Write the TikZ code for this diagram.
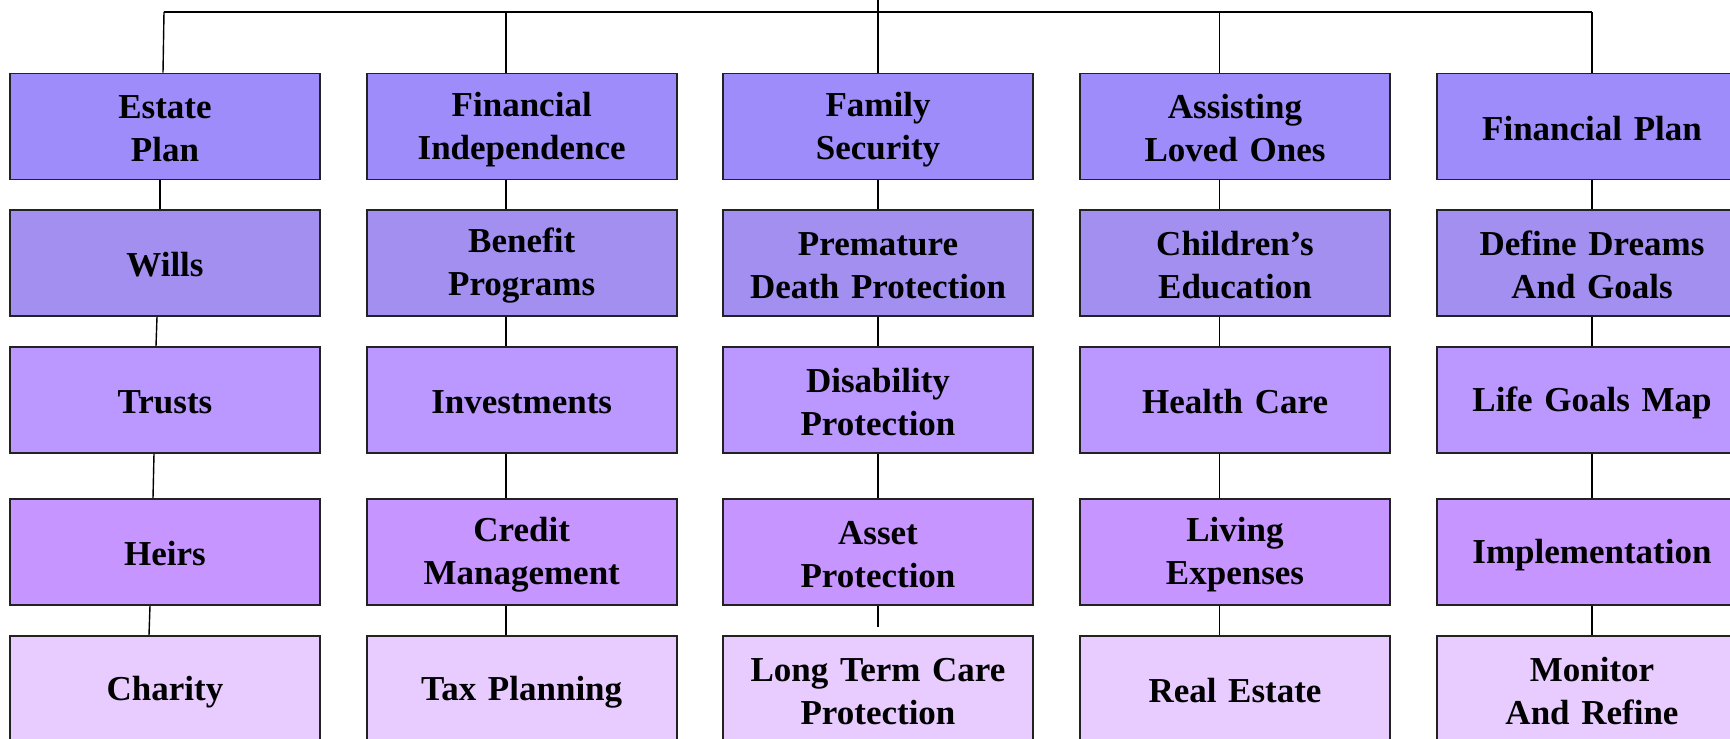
\documentclass[tikz,border=0pt]{standalone}
\usepackage{fontspec}
\setmainfont{Liberation Serif}
\definecolor{rowA}{RGB}{158,140,250}
\definecolor{rowB}{RGB}{163,143,240}
\definecolor{rowC}{RGB}{186,152,255}
\definecolor{rowD}{RGB}{198,149,255}
\definecolor{rowE}{RGB}{232,204,255}
\definecolor{edge}{RGB}{34,34,34}
\tikzset{
  box/.style={draw=edge, line width=1.6pt, rectangle, minimum width=310pt, minimum height=106pt,
    inner sep=0pt, text width=300pt, align=center,
    font=\fontsize{35}{43.4}\selectfont\bfseries,
    execute at begin node={\rule{0pt}{30pt}},
    execute at end node={\rule[-2.6pt]{0pt}{0pt}}},
  link/.style={draw=black, line width=1.4pt}
}
\begin{document}
\begin{tikzpicture}[x=1pt,y=-1pt]
\useasboundingbox (0,0) rectangle (1730,739);
% column centres: 165, 521.7, 878, 1235, 1592 ; row centres: 126.5, 263, 400, 552, 689
\node[box, fill=rowA] (a1) at (165,126.5) {Estate\\Plan};
\node[box, fill=rowB] (a2) at (165,263) {Wills};
\node[box, fill=rowC] (a3) at (165,400) {Trusts};
\node[box, fill=rowD] (a4) at (165,552) {Heirs};
\node[box, fill=rowE] (a5) at (165,689) {Charity};

\node[box, fill=rowA] (b1) at (521.7,126.5) {Financial\\Independence};
\node[box, fill=rowB] (b2) at (521.7,263) {Benefit\\Programs};
\node[box, fill=rowC] (b3) at (521.7,400) {Investments};
\node[box, fill=rowD] (b4) at (521.7,552) {Credit\\Management};
\node[box, fill=rowE] (b5) at (521.7,689) {Tax Planning};

\node[box, fill=rowA] (c1) at (878,126.5) {Family\\Security};
\node[box, fill=rowB] (c2) at (878,263) {Premature\\Death Protection};
\node[box, fill=rowC] (c3) at (878,400) {Disability\\Protection};
\node[box, fill=rowD] (c4) at (878,552) {Asset\\Protection};
\node[box, fill=rowE] (c5) at (878,689) {Long Term Care\\Protection};

\node[box, fill=rowA] (d1) at (1235,126.5) {Assisting\\Loved Ones};
\node[box, fill=rowB] (d2) at (1235,263) {Children’s\\Education};
\node[box, fill=rowC] (d3) at (1235,400) {Health Care};
\node[box, fill=rowD] (d4) at (1235,552) {Living\\Expenses};
\node[box, fill=rowE] (d5) at (1235,689) {Real Estate};

\node[box, fill=rowA] (e1) at (1592,126.5) {Financial Plan};
\node[box, fill=rowB] (e2) at (1592,263) {Define Dreams\\And Goals};
\node[box, fill=rowC] (e3) at (1592,400) {Life Goals Map};
\node[box, fill=rowD] (e4) at (1592,552) {Implementation};
\node[box, fill=rowE] (e5) at (1592,689) {Monitor\\And Refine};

% top bus
\coordinate (root) at (878,0);
\coordinate (busL) at (164,12);
\coordinate (busB) at (506,12);
\coordinate (busD) at (1219.3,12);
\coordinate (busR) at (1592,12);
\draw[link] (busL) -- (busR);
\draw[link] (root) -- (c1.north);
\draw[link] (busL) -- ([xshift=-2pt]a1.north);
\draw[link] (busB) -- (busB |- b1.north);
\draw[link] (busD) -- (busD |- d1.north);
\draw[link] (busR) -- (e1.north);

% column 1 (drifting left)
\draw[link] ([xshift=-5pt]a1.south) -- ([xshift=-5pt]a2.north);
\draw[link] ([xshift=-8pt]a2.south) -- ([xshift=-9pt]a3.north);
\draw[link] ([xshift=-11pt]a3.south) -- ([xshift=-12pt]a4.north);
\draw[link] ([xshift=-15pt]a4.south) -- ([xshift=-16pt]a5.north);

% column 2
\draw[link] ([xshift=-15.7pt]b1.south) -- ([xshift=-15.7pt]b2.north);
\draw[link] ([xshift=-15.7pt]b2.south) -- ([xshift=-15.7pt]b3.north);
\draw[link] ([xshift=-15.7pt]b3.south) -- ([xshift=-15.7pt]b4.north);
\draw[link] ([xshift=-15.7pt]b4.south) -- ([xshift=-15.7pt]b5.north);

% column 3
\draw[link] (c1.south) -- (c2.north);
\draw[link] (c2.south) -- (c3.north);
\draw[link] (c3.south) -- (c4.north);
\draw[link] (c4.south) -- ([yshift=8pt]c5.north);

% column 4
\draw[link] ([xshift=-15.7pt]d1.south) -- ([xshift=-15.7pt]d2.north);
\draw[link] ([xshift=-15.7pt]d2.south) -- ([xshift=-15.7pt]d3.north);
\draw[link] ([xshift=-15.7pt]d3.south) -- ([xshift=-15.7pt]d4.north);
\draw[link] ([xshift=-15.7pt]d4.south) -- ([xshift=-15.7pt]d5.north);

% column 5
\draw[link] (e1.south) -- (e2.north);
\draw[link] (e2.south) -- (e3.north);
\draw[link] (e3.south) -- (e4.north);
\draw[link] (e4.south) -- (e5.north);
\end{tikzpicture}
\end{document}
